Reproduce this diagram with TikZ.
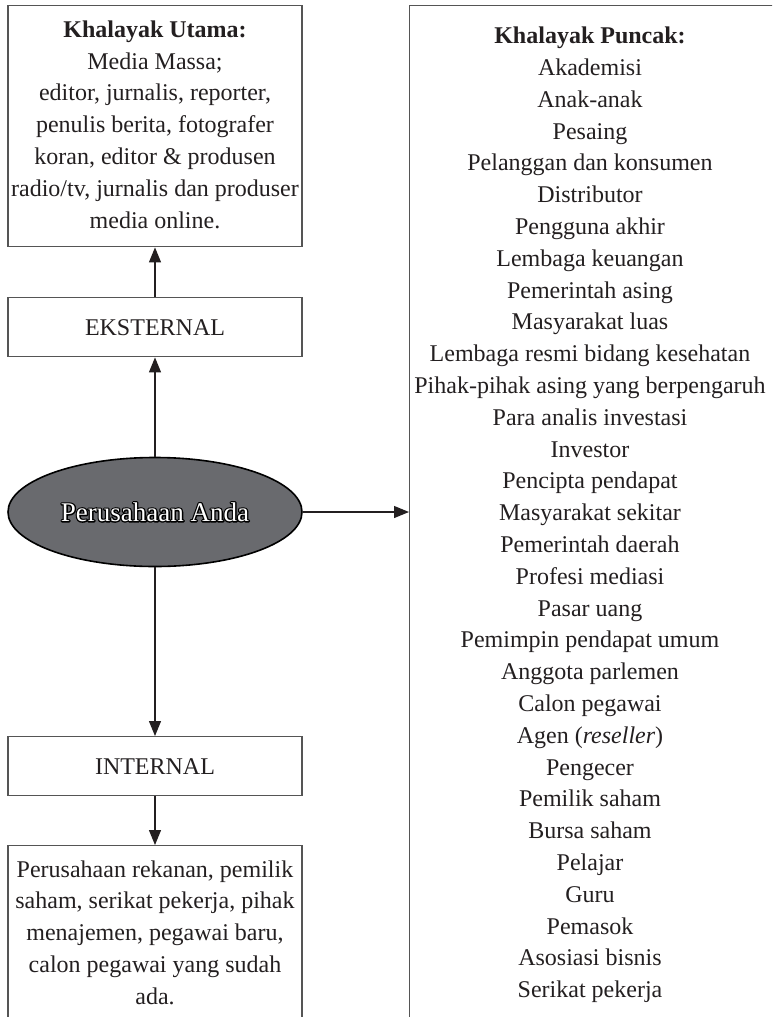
\documentclass[tikz,border=0pt]{standalone}
\usepackage{fontspec}
\setmainfont{Liberation Serif}
\usetikzlibrary{arrows.meta,shapes.geometric}
\definecolor{boxc}{HTML}{555555}
\definecolor{txtc}{HTML}{231F20}
\definecolor{arrc}{HTML}{231F20}
\definecolor{ellc}{HTML}{696A6E}
\newcommand{\outlinedtext}[1]{%
  \special{pdf:literal direct q 1 Tr 2.6 w 1 J 1 j 0 G}\rlap{#1}\special{pdf:literal direct Q}%
  \special{pdf:literal direct 0 Tr}#1}
\begin{document}
\begin{tikzpicture}[x=1pt,y=-1pt,
  box/.style={draw=boxc, line width=1.4pt, inner sep=0pt, minimum width=294pt},
  txt/.style={align=center, text=txtc, font=\fontsize{24}{31.8}\selectfont, inner sep=0pt},
  arr/.style={draw=arrc, line width=1.2pt, -{Triangle[length=15pt,width=12pt]}},
  eltxt/.style={font=\fontsize{27}{30}\selectfont, inner sep=0pt}]
\useasboundingbox (0,0) rectangle (772,1017);
\clip (0,0) rectangle (772,1017);

% boxes
\node[box, minimum height=241pt, anchor=north] (utama) at (155,5) {};
\node[box, minimum height=59pt, anchor=north] (ext) at (155,297) {};
\node[box, minimum height=59pt, anchor=north] (int) at (155,736) {};
\node[box, minimum height=220pt, anchor=north] (ibox) at (155,845) {};
\node[box, minimum width=380pt, minimum height=1040pt, anchor=north west] (rbox) at (409,5) {};

% texts
\node[txt, anchor=north] (utamat) at (155,14.74) {\strut\textbf{Khalayak Utama:}\\Media Massa;\\editor, jurnalis, reporter,\\penulis berita, fotografer\\koran, editor \& produsen\\radio/tv, jurnalis dan produser\\media online.};
\node[txt] (extt) at (ext) {EKSTERNAL};
\node[txt] (intt) at (int) {INTERNAL};
\node[txt, anchor=north] (iboxt) at (155,854.7) {\strut Perusahaan rekanan, pemilik\\saham, serikat pekerja, pihak\\menajemen, pegawai baru,\\calon pegawai yang sudah\\ada.};
\node[txt, anchor=north] (rtext) at (590,21.24) {\strut\textbf{Khalayak Puncak:}\\Akademisi\\Anak-anak\\Pesaing\\Pelanggan dan konsumen\\Distributor\\Pengguna akhir\\Lembaga keuangan\\Pemerintah asing\\Masyarakat luas\\Lembaga resmi bidang kesehatan\\Pihak-pihak asing yang berpengaruh\\Para analis investasi\\Investor\\Pencipta pendapat\\Masyarakat sekitar\\Pemerintah daerah\\Profesi mediasi\\Pasar uang\\Pemimpin pendapat umum\\Anggota parlemen\\Calon pegawai\\Agen (\textit{reseller})\\Pengecer\\Pemilik saham\\Bursa saham\\Pelajar\\Guru\\Pemasok\\Asosiasi bisnis\\Serikat pekerja};

% ellipse
\node[ellipse, draw=black, line width=1.6pt, fill=ellc, minimum width=294pt, minimum height=109pt, inner sep=0pt] (firm) at (155,512) {};
\node[eltxt, text=white] (firmt) at (firm) {\outlinedtext{Perusahaan Anda}};

% connectors
\draw[arr] (ext.north) -- (utama.south);
\draw[arr] (firm.north) -- (ext.south);
\draw[arr] (firm.east) -- (firm.east -| rbox.west);
\draw[arr] (firm.south) -- (int.north);
\draw[arr] (int.south) -- (ibox.north);
\end{tikzpicture}
\end{document}
